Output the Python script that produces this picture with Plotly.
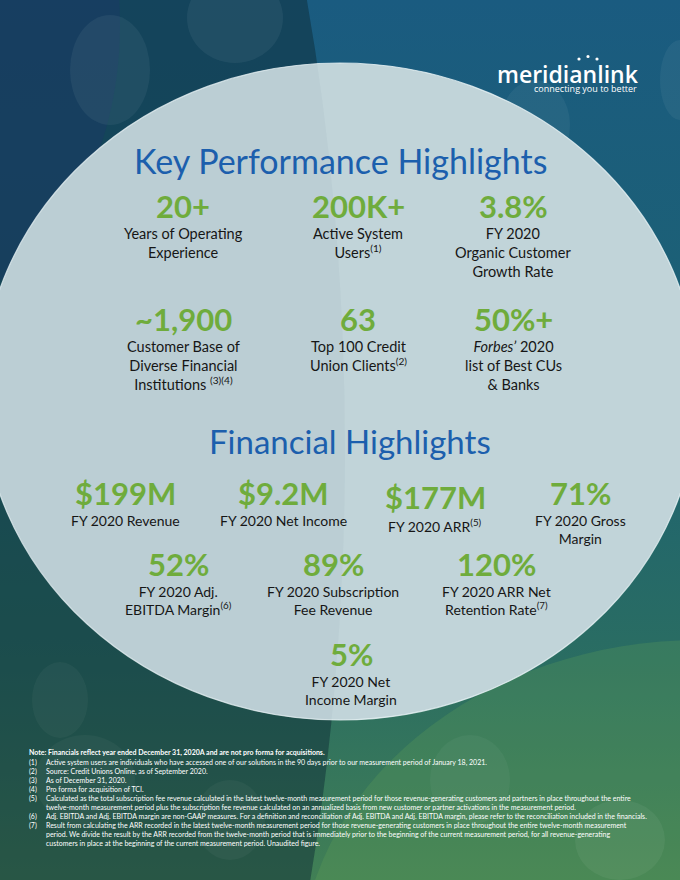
import plotly.graph_objects as go

# ---------------- data ----------------
kpi_values = ["20+", "200K+", "3.8%", "~1,900", "63", "50%+"]
kpi_labels = [
    "Years of Operating<br>Experience",
    "Active System<br>Users<sup>(1)</sup>",
    "FY 2020<br>Organic Customer<br>Growth Rate",
    "Customer Base of<br>Diverse Financial<br>Institutions <sup>(3)(4)</sup>",
    "Top 100 Credit<br>Union Clients<sup>(2)</sup>",
    "<i>Forbes’</i> 2020<br>list of Best CUs<br>& Banks",
]
fin_values = ["$199M", "$9.2M", "$177M", "71%", "52%", "89%", "120%", "5%"]
fin_labels = [
    "FY 2020 Revenue",
    "FY 2020 Net Income",
    "FY 2020 ARR<sup>(5)</sup>",
    "FY 2020 Gross<br>Margin",
    "FY 2020 Adj.<br>EBITDA Margin<sup>(6)</sup>",
    "FY 2020 Subscription<br>Fee Revenue",
    "FY 2020 ARR Net<br>Retention Rate<sup>(7)</sup>",
    "FY 2020 Net<br>Income Margin",
]
note_text = "Note: Financials reflect year ended December 31, 2020A and are not pro forma for acquisitions."
footnote_ids = ["(1)", "(2)", "(3)", "(4)", "(5)", "", "(6)", "(7)", "", ""]
footnote_lines = [
    "Active system users are individuals who have accessed one of our solutions in the 90 days prior to our measurement period of January 18, 2021.",
    "Source: Credit Unions Online, as of September 2020.",
    "As of December 31, 2020.",
    "Pro forma for acquisition of TCI.",
    "Calculated as the total subscription fee revenue calculated in the latest twelve-month measurement period for those revenue-generating customers and partners in place throughout the entire",
    "twelve-month measurement period plus the subscription fee revenue calculated on an annualized basis from new customer or partner activations in the measurement period.",
    "Adj. EBITDA and Adj. EBITDA margin are non-GAAP measures. For a definition and reconciliation of Adj. EBITDA and Adj. EBITDA margin, please refer to the reconciliation included in the financials.",
    "Result from calculating the ARR recorded in the latest twelve-month measurement period for those revenue-generating customers in place throughout the entire twelve-month measurement",
    "period. We divide the result by the ARR recorded from the twelve-month period that is immediately prior to the beginning of the current measurement period, for all revenue-generating",
    "customers in place at the beginning of the current measurement period. Unaudited figure.",
]

# ---------------- layout positions / styles ----------------
W, H = 680, 880
GREEN = "#6fac3c"
BLUE = "#1c5fad"
DARK = "#161616"
FONT = "Lato"

kpi_x = [183, 358, 513, 183, 358, 513]
kpi_num_y = [206, 206, 206, 319, 319, 319]
fin_x = [125, 283, 435, 580, 178, 333, 496, 351]
fin_num_y = [493, 493, 497, 493, 564, 564, 564, 654]

fig = go.Figure()

# background gradient
fig.add_trace(go.Scatter(
    x=[0, W, W, 0, 0], y=[0, 0, H, H, 0], mode="lines", fill="toself",
    line=dict(width=0),
    fillgradient=dict(type="vertical", start=0, stop=H,
                      colorscale=[[0, "#1a5b80"], [0.45, "#1d6272"], [0.75, "#2a6d62"], [1, "#417f55"]]),
    hoverinfo="skip", showlegend=False,
))

shapes = []
# dark left sweep
shapes.append(dict(type="circle", xref="x", yref="y", x0=-700, x1=345, y0=-750, y1=1650,
                   fillcolor="rgba(12,40,48,0.45)", line=dict(width=0)))
# navy tint top-left
shapes.append(dict(type="circle", xref="x", yref="y", x0=-260, x1=120, y0=-250, y1=300,
                   fillcolor="rgba(30,50,110,0.30)", line=dict(width=0)))
# lighter green bottom-right
shapes.append(dict(type="circle", xref="x", yref="y", x0=300, x1=1100, y0=640, y1=1300,
                   fillcolor="rgba(110,175,85,0.22)", line=dict(width=0)))
# bokeh
for (cx, cy, rx, ry, a) in [(110, 70, 40, 55, 0.06), (235, 18, 48, 45, 0.06), (535, 125, 35, 45, 0.05),
                            (680, 80, 20, 40, 0.05), (85, 780, 50, 45, 0.04), (230, 820, 35, 40, 0.04),
                            (470, 780, 40, 45, 0.04), (620, 840, 45, 40, 0.05), (60, 700, 28, 38, 0.04)]:
    shapes.append(dict(type="circle", xref="x", yref="y", x0=cx - rx, x1=cx + rx, y0=cy - ry, y1=cy + ry,
                       fillcolor=f"rgba(255,255,255,{a})", line=dict(width=0)))
# main light circle
shapes.append(dict(type="circle", xref="x", yref="y", x0=-18, x1=698, y0=63, y1=720,
                   fillcolor="#c1d4d9", line=dict(color="rgba(235,245,248,0.8)", width=1.2)))
# subtle darker left half of circle
shapes.append(dict(type="circle", xref="x", yref="y", x0=-700, x1=345, y0=-750, y1=1650,
                   fillcolor="rgba(40,70,90,0.04)", line=dict(width=0)))
# logo dots
for (cx, cy) in [(579, 59), (588, 56.5), (597, 59)]:
    shapes.append(dict(type="circle", xref="x", yref="y", x0=cx - 1.6, x1=cx + 1.6, y0=cy - 1.6, y1=cy + 1.6,
                       fillcolor="white", line=dict(width=0)))

ann = []
# logo
ann.append(dict(x=640, y=74, text="meridianlink", showarrow=False, xanchor="right", yanchor="middle",
                borderpad=0, font=dict(family="Open Sans", size=23, color="white", weight=600)))
ann.append(dict(x=638, y=88, text="connecting you to better", showarrow=False, xanchor="right", yanchor="middle",
                borderpad=0, font=dict(family="Open Sans", size=9, color="white")))

# section titles
ann.append(dict(x=340, y=160, text="Key Performance Highlights", showarrow=False, xanchor="center", yanchor="middle",
                font=dict(family=FONT, size=34, color=BLUE)))
ann.append(dict(x=350, y=441, text="Financial Highlights", showarrow=False, xanchor="center", yanchor="middle",
                font=dict(family=FONT, size=33, color=BLUE)))

for v, lab, x, y in zip(kpi_values, kpi_labels, kpi_x, kpi_num_y):
    ann.append(dict(x=x, y=y, text=v, showarrow=False, xanchor="center", yanchor="middle",
                    font=dict(family=FONT, size=31, color=GREEN, weight=700)))
    ann.append(dict(x=x, y=y + 17, text=lab, showarrow=False, xanchor="center", yanchor="top", align="center",
                    font=dict(family=FONT, size=14.5, color=DARK)))

for v, lab, x, y in zip(fin_values, fin_labels, fin_x, fin_num_y):
    ann.append(dict(x=x, y=y, text=v, showarrow=False, xanchor="center", yanchor="middle",
                    font=dict(family=FONT, size=31, color=GREEN, weight=700)))
    ann.append(dict(x=x, y=y + 17, text=lab, showarrow=False, xanchor="center", yanchor="top", align="center",
                    font=dict(family=FONT, size=14, color=DARK)))

# footnotes
ann.append(dict(x=27, y=752, text="<b>" + note_text + "</b>", showarrow=False, xanchor="left", yanchor="middle",
                font=dict(family=FONT, size=7, color="white")))
for i, (fid, line) in enumerate(zip(footnote_ids, footnote_lines)):
    yy = 762 + 9 * i
    if fid:
        ann.append(dict(x=27, y=yy, text=fid, showarrow=False, xanchor="left", yanchor="middle",
                        font=dict(family=FONT, size=7, color="white")))
    ann.append(dict(x=44, y=yy, text=line, showarrow=False, xanchor="left", yanchor="middle",
                    font=dict(family=FONT, size=7, color="white")))

fig.update_layout(
    width=W, height=H, margin=dict(l=0, r=0, t=0, b=0),
    paper_bgcolor="#1d6272", plot_bgcolor="#1d6272",
    xaxis=dict(range=[0, W], visible=False, fixedrange=True),
    yaxis=dict(range=[H, 0], visible=False, fixedrange=True),
    shapes=shapes, annotations=ann, showlegend=False,
)
fig.write_html("out.html", config={"displayModeBar": False},
               post_script="document.body.style.margin='0';document.body.style.background='#1d6272';")
